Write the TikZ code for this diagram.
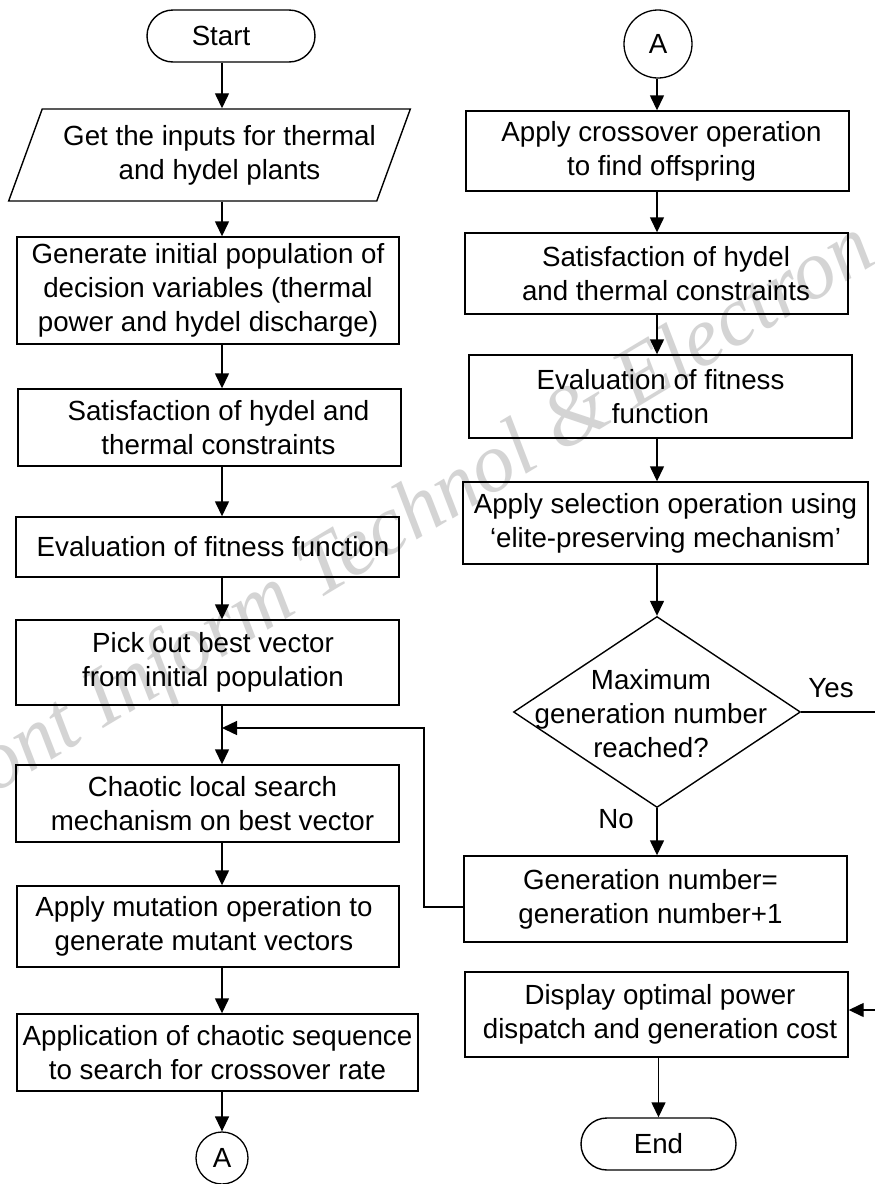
\documentclass[tikz,border=0pt]{standalone}
\usepackage{fontspec}
\setmainfont{Liberation Sans}
\newfontfamily\wmfont{Liberation Serif}
\usetikzlibrary{arrows.meta,shapes.geometric,calc}
\begin{document}
\begin{tikzpicture}[x=1pt,y=-1pt,
  every node/.style={font=\fontsize{27.7}{34}\selectfont, inner sep=1pt, align=center, text=black},
  box/.style={draw, line width=1.4pt, rectangle},
  term/.style={draw, line width=1.4pt, rectangle, rounded corners=26pt, minimum height=52pt},
  conn/.style={draw, circle, line width=1.3pt, inner sep=0pt},
  arr/.style={line width=1.4pt, -{Triangle[length=15pt,width=14pt]}},
  wm/.style={text=black!17, inner sep=0pt, font=\wmfont\itshape\fontsize{84}{84}\selectfont}]
\useasboundingbox (0,0) rectangle (875,1184);
\fill[white] (0,0) rectangle (875,1184);

% watermark
\node[wm, rotate=31, anchor=base east] (mark) at (880,262) {Front Inform Technol \& Electron};

% column axes
\coordinate (lx) at (222,0);
\coordinate (rx) at (657,0);

% left column
\node[term, minimum width=168pt] (start) at (231,36) {\hspace*{-20pt}Start};
\node[draw, line width=1.4pt, trapezium, trapezium left angle=61.5, trapezium right angle=118.5,
      trapezium stretches=true, minimum width=393pt, minimum height=92pt] (in) at (209.5,155)
      {\hspace*{20pt}Get the inputs for thermal\\\hspace*{20pt}and hydel plants};
\node[box, minimum width=382pt, minimum height=107pt] (gen) at (208,290.5)
      {Generate initial population of\\decision variables (thermal\\power and hydel discharge)};
\node[box, minimum width=383pt, minimum height=77pt] (sat) at (209.5,427.5)
      {\hspace*{18pt}Satisfaction of hydel and\\\hspace*{18pt}thermal constraints};
\node[box, minimum width=383pt, minimum height=60pt] (eval) at (207.5,547)
      {\hspace*{11pt}Evaluation of fitness function};
\node[box, minimum width=383pt, minimum height=85pt] (pick) at (207.5,662.5)
      {\hspace*{11pt}Pick out best vector\\\hspace*{11pt}from initial population};
\node[box, minimum width=383pt, minimum height=77pt] (chao) at (207.5,803.5)
      {\hspace*{10pt}Chaotic local search\\\hspace*{10pt}mechanism on best vector};
\node[box, minimum width=382pt, minimum height=81pt] (mut) at (208,926.5)
      {\hspace*{-8pt}Apply mutation operation to\\\hspace*{-8pt}generate mutant vectors};
\node[box, minimum width=401pt, minimum height=77pt] (appl) at (217.5,1052.5)
      {Application of chaotic sequence\\to search for crossover rate};
\node[conn, minimum size=52pt] (A2) at (222,1158) {A};

% right column
\node[conn, minimum size=68pt] (A1) at (658,44) {A};
\node[box, minimum width=383pt, minimum height=80pt] (cross) at (657.5,151)
      {\hspace*{8pt}Apply crossover operation\\\hspace*{8pt}to find offspring};
\node[box, minimum width=383pt, minimum height=81pt] (sat2) at (656.5,273.5)
      {\hspace*{19pt}Satisfaction of hydel\\\hspace*{19pt}and thermal constraints};
\node[box, minimum width=383pt, minimum height=83pt] (eval2) at (660.5,396.5)
      {Evaluation of fitness\\function};
\node[box, minimum width=405pt, minimum height=82pt] (sel) at (665.5,523)
      {Apply selection operation using\\`elite-preserving mechanism'};
\node[draw, line width=1.4pt, diamond, minimum width=287pt, minimum height=191pt] (dia) at (657,712) {};
\node (diatext) at (651,714) {Maximum\\generation number\\reached?};
\node (yes) at (831,688) {Yes};
\node (no) at (616,819) {No};
\node[box, minimum width=383pt, minimum height=86pt] (gen2) at (655.5,899)
      {\hspace*{-10pt}Generation number=\\\hspace*{-10pt}generation number+1};
\node[box, minimum width=383pt, minimum height=85pt] (disp) at (656.5,1014.5)
      {\hspace*{7pt}Display optimal power\\\hspace*{7pt}dispatch and generation cost};
\node[term, minimum width=155pt] (end) at (658.5,1144) {End};

% left arrows
\draw[arr] (start.south -| lx) -- (in.north -| lx);
\draw[arr] (in.south -| lx) -- (gen.north -| lx);
\draw[arr] (gen.south -| lx) -- (sat.north -| lx);
\draw[arr] (sat.south -| lx) -- (eval.north -| lx);
\draw[arr] (eval.south -| lx) -- (pick.north -| lx);
\draw[arr] (pick.south -| lx) -- (chao.north -| lx);
\draw[arr] (chao.south -| lx) -- (mut.north -| lx);
\draw[arr] (mut.south -| lx) -- (appl.north -| lx);
\draw[arr] (appl.south -| lx) -- (A2.north);

% right arrows
\draw[arr] (A1.south -| rx) -- (cross.north -| rx);
\draw[arr] (cross.south -| rx) -- (sat2.north -| rx);
\draw[arr] (sat2.south -| rx) -- (eval2.north -| rx);
\draw[arr] (eval2.south -| rx) -- (sel.north -| rx);
\draw[arr] (sel.south -| rx) -- (dia.north);
\draw[arr] (dia.south) -- (gen2.north -| rx);
\draw[arr] (disp.south -| end) -- (end.north);

% loop back
\coordinate (lp) at (424,907);
\coordinate (lpend) at (222,728);
\draw[arr] (gen2.west |- lp) -- (lp) |- (lpend);

% yes branch
\coordinate (yr) at (890,712);
\coordinate (ye) at (0,1010);
\draw[arr] (dia.east) -- (yr) |- (disp.east |- ye);
\end{tikzpicture}
\end{document}
